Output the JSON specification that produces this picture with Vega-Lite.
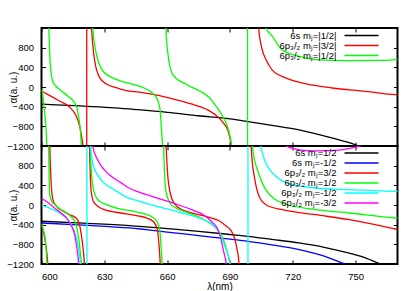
{
  "$schema": "https://vega.github.io/schema/vega-lite/v6.json",
  "padding": {"left": 5.5, "top": 26, "right": 5, "bottom": 0},
  "background": "white",
  "config": {
    "view": {"stroke": "black", "strokeWidth": 2},
    "axis": {"domain": false, "grid": false, "tickColor": "black", "tickSize": -4, "tickWidth": 1,
      "labelFont": "Liberation Sans", "labelFontSize": 9.5, "labelColor": "black",
      "titleFont": "Liberation Sans", "titleFontSize": 10, "titleFontWeight": "normal", "titleColor": "black"},
    "legend": {"labelFont": "Liberation Sans", "labelFontSize": 9.5, "labelColor": "black"}
  },
  "datasets": {
    "top": [
      {"s":"6s mⱼ=|1/2|","b":0,"x":600,"y":-347},{"s":"6s mⱼ=|1/2|","b":0,"x":610,"y":-368},{"s":"6s mⱼ=|1/2|","b":0,"x":620,"y":-390},{"s":"6s mⱼ=|1/2|","b":0,"x":635,"y":-425},{"s":"6s mⱼ=|1/2|","b":0,"x":646,"y":-462},{"s":"6s mⱼ=|1/2|","b":0,"x":660,"y":-515},{"s":"6s mⱼ=|1/2|","b":0,"x":675,"y":-585},{"s":"6s mⱼ=|1/2|","b":0,"x":690,"y":-650},{"s":"6s mⱼ=|1/2|","b":0,"x":698,"y":-700},{"s":"6s mⱼ=|1/2|","b":0,"x":710,"y":-780},{"s":"6s mⱼ=|1/2|","b":0,"x":723,"y":-871},{"s":"6s mⱼ=|1/2|","b":0,"x":739,"y":-1041},{"s":"6s mⱼ=|1/2|","b":0,"x":750,"y":-1177},{"s":"6s mⱼ=|1/2|","b":0,"x":756,"y":-1280},
      {"s":"6p₃/₂ mⱼ=|3/2|","b":0,"x":600,"y":-82},{"s":"6p₃/₂ mⱼ=|3/2|","b":0,"x":603.8,"y":-170},{"s":"6p₃/₂ mⱼ=|3/2|","b":0,"x":608.6,"y":-286},{"s":"6p₃/₂ mⱼ=|3/2|","b":0,"x":613.4,"y":-408},{"s":"6p₃/₂ mⱼ=|3/2|","b":0,"x":616.6,"y":-592},{"s":"6p₃/₂ mⱼ=|3/2|","b":0,"x":618,"y":-760},{"s":"6p₃/₂ mⱼ=|3/2|","b":0,"x":619,"y":-966},{"s":"6p₃/₂ mⱼ=|3/2|","b":0,"x":619.8,"y":-1204},{"s":"6p₃/₂ mⱼ=|3/2|","b":0,"x":620.3,"y":-1500},
      {"s":"6p₃/₂ mⱼ=|3/2|","b":1,"x":623.5,"y":1500},{"s":"6p₃/₂ mⱼ=|3/2|","b":1,"x":623.9,"y":1200},{"s":"6p₃/₂ mⱼ=|3/2|","b":1,"x":624.5,"y":850},{"s":"6p₃/₂ mⱼ=|3/2|","b":1,"x":625.4,"y":530},{"s":"6p₃/₂ mⱼ=|3/2|","b":1,"x":627.8,"y":190},{"s":"6p₃/₂ mⱼ=|3/2|","b":1,"x":631,"y":60},{"s":"6p₃/₂ mⱼ=|3/2|","b":1,"x":635.7,"y":-14},{"s":"6p₃/₂ mⱼ=|3/2|","b":1,"x":640.5,"y":-75},{"s":"6p₃/₂ mⱼ=|3/2|","b":1,"x":646.7,"y":-105},{"s":"6p₃/₂ mⱼ=|3/2|","b":1,"x":656.4,"y":-175},{"s":"6p₃/₂ mⱼ=|3/2|","b":1,"x":664,"y":-255},{"s":"6p₃/₂ mⱼ=|3/2|","b":1,"x":672,"y":-350},{"s":"6p₃/₂ mⱼ=|3/2|","b":1,"x":676,"y":-405},{"s":"6p₃/₂ mⱼ=|3/2|","b":1,"x":680,"y":-480},{"s":"6p₃/₂ mⱼ=|3/2|","b":1,"x":684.9,"y":-633},{"s":"6p₃/₂ mⱼ=|3/2|","b":1,"x":687,"y":-740},{"s":"6p₃/₂ mⱼ=|3/2|","b":1,"x":688.9,"y":-871},{"s":"6p₃/₂ mⱼ=|3/2|","b":1,"x":690.5,"y":-1177},{"s":"6p₃/₂ mⱼ=|3/2|","b":1,"x":690.9,"y":-1500},
      {"s":"6p₃/₂ mⱼ=|3/2|","b":2,"x":703.5,"y":1500},{"s":"6p₃/₂ mⱼ=|3/2|","b":2,"x":703.7,"y":1200},{"s":"6p₃/₂ mⱼ=|3/2|","b":2,"x":705.4,"y":761},{"s":"6p₃/₂ mⱼ=|3/2|","b":2,"x":707.2,"y":557},{"s":"6p₃/₂ mⱼ=|3/2|","b":2,"x":710,"y":353},{"s":"6p₃/₂ mⱼ=|3/2|","b":2,"x":716.6,"y":184},{"s":"6p₃/₂ mⱼ=|3/2|","b":2,"x":726,"y":67},{"s":"6p₃/₂ mⱼ=|3/2|","b":2,"x":738.8,"y":-20},{"s":"6p₃/₂ mⱼ=|3/2|","b":2,"x":754.7,"y":-88},{"s":"6p₃/₂ mⱼ=|3/2|","b":2,"x":769,"y":-157},{"s":"6p₃/₂ mⱼ=|3/2|","b":2,"x":771,"y":-165},
      {"s":"6p₃/₂ mⱼ=|1/2|","b":0,"x":600,"y":-48},{"s":"6p₃/₂ mⱼ=|1/2|","b":0,"x":600.7,"y":-200},{"s":"6p₃/₂ mⱼ=|1/2|","b":0,"x":601.3,"y":-450},{"s":"6p₃/₂ mⱼ=|1/2|","b":0,"x":602,"y":-750},{"s":"6p₃/₂ mⱼ=|1/2|","b":0,"x":602.6,"y":-1204},{"s":"6p₃/₂ mⱼ=|1/2|","b":0,"x":603,"y":-1600},
      {"s":"6p₃/₂ mⱼ=|1/2|","b":1,"x":603.3,"y":1500},{"s":"6p₃/₂ mⱼ=|1/2|","b":1,"x":603.5,"y":1210},{"s":"6p₃/₂ mⱼ=|1/2|","b":1,"x":604.1,"y":530},{"s":"6p₃/₂ mⱼ=|1/2|","b":1,"x":605.3,"y":122},{"s":"6p₃/₂ mⱼ=|1/2|","b":1,"x":606.8,"y":20},{"s":"6p₃/₂ mⱼ=|1/2|","b":1,"x":608.6,"y":-48},{"s":"6p₃/₂ mⱼ=|1/2|","b":1,"x":612.5,"y":-184},{"s":"6p₃/₂ mⱼ=|1/2|","b":1,"x":615.8,"y":-320},{"s":"6p₃/₂ mⱼ=|1/2|","b":1,"x":617.1,"y":-450},{"s":"6p₃/₂ mⱼ=|1/2|","b":1,"x":617.8,"y":-626},{"s":"6p₃/₂ mⱼ=|1/2|","b":1,"x":618.6,"y":-900},{"s":"6p₃/₂ mⱼ=|1/2|","b":1,"x":619,"y":-1204},{"s":"6p₃/₂ mⱼ=|1/2|","b":1,"x":619.3,"y":-1500},
      {"s":"6p₃/₂ mⱼ=|1/2|","b":2,"x":624.3,"y":1500},{"s":"6p₃/₂ mⱼ=|1/2|","b":2,"x":624.5,"y":1200},{"s":"6p₃/₂ mⱼ=|1/2|","b":2,"x":626.2,"y":667},{"s":"6p₃/₂ mⱼ=|1/2|","b":2,"x":629.3,"y":326},{"s":"6p₃/₂ mⱼ=|1/2|","b":2,"x":635.7,"y":156},{"s":"6p₃/₂ mⱼ=|1/2|","b":2,"x":640.5,"y":88},{"s":"6p₃/₂ mⱼ=|1/2|","b":2,"x":646.7,"y":20},{"s":"6p₃/₂ mⱼ=|1/2|","b":2,"x":649,"y":-20},{"s":"6p₃/₂ mⱼ=|1/2|","b":2,"x":653.1,"y":-130},{"s":"6p₃/₂ mⱼ=|1/2|","b":2,"x":655.5,"y":-270},{"s":"6p₃/₂ mⱼ=|1/2|","b":2,"x":656.6,"y":-450},{"s":"6p₃/₂ mⱼ=|1/2|","b":2,"x":657.2,"y":-800},{"s":"6p₃/₂ mⱼ=|1/2|","b":2,"x":657.8,"y":-1204},{"s":"6p₃/₂ mⱼ=|1/2|","b":2,"x":658.1,"y":-1500},
      {"s":"6p₃/₂ mⱼ=|1/2|","b":3,"x":659.3,"y":1500},{"s":"6p₃/₂ mⱼ=|1/2|","b":3,"x":659.4,"y":1200},{"s":"6p₃/₂ mⱼ=|1/2|","b":3,"x":660.2,"y":735},{"s":"6p₃/₂ mⱼ=|1/2|","b":3,"x":662.6,"y":259},{"s":"6p₃/₂ mⱼ=|1/2|","b":3,"x":669,"y":55},{"s":"6p₃/₂ mⱼ=|1/2|","b":3,"x":675,"y":-70},{"s":"6p₃/₂ mⱼ=|1/2|","b":3,"x":680,"y":-210},{"s":"6p₃/₂ mⱼ=|1/2|","b":3,"x":683.3,"y":-390},{"s":"6p₃/₂ mⱼ=|1/2|","b":3,"x":686.3,"y":-580},{"s":"6p₃/₂ mⱼ=|1/2|","b":3,"x":688.4,"y":-760},{"s":"6p₃/₂ mⱼ=|1/2|","b":3,"x":690,"y":-1000},{"s":"6p₃/₂ mⱼ=|1/2|","b":3,"x":690.8,"y":-1200},{"s":"6p₃/₂ mⱼ=|1/2|","b":3,"x":691.2,"y":-1500},
      {"s":"6p₃/₂ mⱼ=|1/2|","b":4,"x":707,"y":1500},{"s":"6p₃/₂ mⱼ=|1/2|","b":4,"x":707.2,"y":1200},{"s":"6p₃/₂ mⱼ=|1/2|","b":4,"x":710.2,"y":1034},{"s":"6p₃/₂ mⱼ=|1/2|","b":4,"x":714.7,"y":761},{"s":"6p₃/₂ mⱼ=|1/2|","b":4,"x":722.7,"y":626},{"s":"6p₃/₂ mⱼ=|1/2|","b":4,"x":730.6,"y":557},{"s":"6p₃/₂ mⱼ=|1/2|","b":4,"x":746.7,"y":537},{"s":"6p₃/₂ mⱼ=|1/2|","b":4,"x":761,"y":540},{"s":"6p₃/₂ mⱼ=|1/2|","b":4,"x":771,"y":560}
    ],
    "topv": [
      {"s":"6p₃/₂ mⱼ=|3/2|","b":9,"x":621.6,"y":-1500},{"s":"6p₃/₂ mⱼ=|3/2|","b":9,"x":621.6,"y":1500},
      {"s":"6p₃/₂ mⱼ=|1/2|","b":9,"x":698.4,"y":-1500},{"s":"6p₃/₂ mⱼ=|1/2|","b":9,"x":698.4,"y":1500}
    ],
    "bot": [
      {"s":"6s mⱼ=1/2","b":0,"x":600,"y":-331},{"s":"6s mⱼ=1/2","b":0,"x":620,"y":-370},{"s":"6s mⱼ=1/2","b":0,"x":642,"y":-420},{"s":"6s mⱼ=1/2","b":0,"x":660,"y":-480},{"s":"6s mⱼ=1/2","b":0,"x":675,"y":-535},{"s":"6s mⱼ=1/2","b":0,"x":690,"y":-600},{"s":"6s mⱼ=1/2","b":0,"x":698.5,"y":-637},{"s":"6s mⱼ=1/2","b":0,"x":710,"y":-700},{"s":"6s mⱼ=1/2","b":0,"x":723,"y":-772},{"s":"6s mⱼ=1/2","b":0,"x":735,"y":-860},{"s":"6s mⱼ=1/2","b":0,"x":746.5,"y":-976},{"s":"6s mⱼ=1/2","b":0,"x":755,"y":-1080},{"s":"6s mⱼ=1/2","b":0,"x":760.5,"y":-1179},{"s":"6s mⱼ=1/2","b":0,"x":766,"y":-1270},
      {"s":"6s mⱼ=-1/2","b":0,"x":600,"y":-366},{"s":"6s mⱼ=-1/2","b":0,"x":620,"y":-410},{"s":"6s mⱼ=-1/2","b":0,"x":642,"y":-467},{"s":"6s mⱼ=-1/2","b":0,"x":660,"y":-550},{"s":"6s mⱼ=-1/2","b":0,"x":675,"y":-623},{"s":"6s mⱼ=-1/2","b":0,"x":690,"y":-695},{"s":"6s mⱼ=-1/2","b":0,"x":698.5,"y":-738},{"s":"6s mⱼ=-1/2","b":0,"x":710,"y":-810},{"s":"6s mⱼ=-1/2","b":0,"x":723,"y":-908},{"s":"6s mⱼ=-1/2","b":0,"x":735,"y":-1040},{"s":"6s mⱼ=-1/2","b":0,"x":743.5,"y":-1179},{"s":"6s mⱼ=-1/2","b":0,"x":748,"y":-1260},
      {"s":"6p₃/₂ mⱼ=3/2","b":0,"x":600,"y":-420},{"s":"6p₃/₂ mⱼ=3/2","b":0,"x":601,"y":-560},{"s":"6p₃/₂ mⱼ=3/2","b":0,"x":602,"y":-800},{"s":"6p₃/₂ mⱼ=3/2","b":0,"x":603,"y":-1200},{"s":"6p₃/₂ mⱼ=3/2","b":0,"x":603.3,"y":-1500},
      {"s":"6p₃/₂ mⱼ=3/2","b":1,"x":603.9,"y":1500},{"s":"6p₃/₂ mⱼ=3/2","b":1,"x":604,"y":1200},{"s":"6p₃/₂ mⱼ=3/2","b":1,"x":604.5,"y":550},{"s":"6p₃/₂ mⱼ=3/2","b":1,"x":605.4,"y":116},{"s":"6p₃/₂ mⱼ=3/2","b":1,"x":607,"y":-20},{"s":"6p₃/₂ mⱼ=3/2","b":1,"x":610.1,"y":-122},{"s":"6p₃/₂ mⱼ=3/2","b":1,"x":613,"y":-190},{"s":"6p₃/₂ mⱼ=3/2","b":1,"x":616.6,"y":-270},{"s":"6p₃/₂ mⱼ=3/2","b":1,"x":618,"y":-380},{"s":"6p₃/₂ mⱼ=3/2","b":1,"x":619,"y":-596},{"s":"6p₃/₂ mⱼ=3/2","b":1,"x":619.9,"y":-900},{"s":"6p₃/₂ mⱼ=3/2","b":1,"x":620.5,"y":-1205},{"s":"6p₃/₂ mⱼ=3/2","b":1,"x":620.8,"y":-1500},
      {"s":"6p₃/₂ mⱼ=3/2","b":2,"x":622.7,"y":1500},{"s":"6p₃/₂ mⱼ=3/2","b":2,"x":622.9,"y":1200},{"s":"6p₃/₂ mⱼ=3/2","b":2,"x":623.3,"y":600},{"s":"6p₃/₂ mⱼ=3/2","b":2,"x":623.7,"y":280},{"s":"6p₃/₂ mⱼ=3/2","b":2,"x":625.2,"y":41},{"s":"6p₃/₂ mⱼ=3/2","b":2,"x":630,"y":-96},{"s":"6p₃/₂ mⱼ=3/2","b":2,"x":638,"y":-163},{"s":"6p₃/₂ mⱼ=3/2","b":2,"x":646,"y":-220},{"s":"6p₃/₂ mⱼ=3/2","b":2,"x":650,"y":-260},{"s":"6p₃/₂ mⱼ=3/2","b":2,"x":653.5,"y":-340},{"s":"6p₃/₂ mⱼ=3/2","b":2,"x":655.3,"y":-500},{"s":"6p₃/₂ mⱼ=3/2","b":2,"x":656.1,"y":-800},{"s":"6p₃/₂ mⱼ=3/2","b":2,"x":656.7,"y":-1200},{"s":"6p₃/₂ mⱼ=3/2","b":2,"x":657,"y":-1500},
      {"s":"6p₃/₂ mⱼ=3/2","b":3,"x":659.2,"y":1500},{"s":"6p₃/₂ mⱼ=3/2","b":3,"x":659.5,"y":1200},{"s":"6p₃/₂ mⱼ=3/2","b":3,"x":660.5,"y":500},{"s":"6p₃/₂ mⱼ=3/2","b":3,"x":662.5,"y":100},{"s":"6p₃/₂ mⱼ=3/2","b":3,"x":665,"y":-40},{"s":"6p₃/₂ mⱼ=3/2","b":3,"x":670,"y":-140},{"s":"6p₃/₂ mⱼ=3/2","b":3,"x":674.5,"y":-190},{"s":"6p₃/₂ mⱼ=3/2","b":3,"x":680,"y":-250},{"s":"6p₃/₂ mⱼ=3/2","b":3,"x":684.8,"y":-320},{"s":"6p₃/₂ mⱼ=3/2","b":3,"x":688,"y":-420},{"s":"6p₃/₂ mⱼ=3/2","b":3,"x":690.5,"y":-520},{"s":"6p₃/₂ mⱼ=3/2","b":3,"x":692.2,"y":-680},{"s":"6p₃/₂ mⱼ=3/2","b":3,"x":693.3,"y":-880},{"s":"6p₃/₂ mⱼ=3/2","b":3,"x":694.3,"y":-1180},{"s":"6p₃/₂ mⱼ=3/2","b":3,"x":694.7,"y":-1500},
      {"s":"6p₃/₂ mⱼ=3/2","b":4,"x":699.8,"y":1500},{"s":"6p₃/₂ mⱼ=3/2","b":4,"x":700.1,"y":1200},{"s":"6p₃/₂ mⱼ=3/2","b":4,"x":700.7,"y":850},{"s":"6p₃/₂ mⱼ=3/2","b":4,"x":701.6,"y":583},{"s":"6p₃/₂ mⱼ=3/2","b":4,"x":703.9,"y":177},{"s":"6p₃/₂ mⱼ=3/2","b":4,"x":707.2,"y":6},{"s":"6p₃/₂ mⱼ=3/2","b":4,"x":715.1,"y":-96},{"s":"6p₃/₂ mⱼ=3/2","b":4,"x":731,"y":-197},{"s":"6p₃/₂ mⱼ=3/2","b":4,"x":746.9,"y":-299},{"s":"6p₃/₂ mⱼ=3/2","b":4,"x":769.1,"y":-488},{"s":"6p₃/₂ mⱼ=3/2","b":4,"x":771,"y":-505},
      {"s":"6p₃/₂ mⱼ=1/2","b":0,"x":600,"y":-380},{"s":"6p₃/₂ mⱼ=1/2","b":0,"x":601,"y":-520},{"s":"6p₃/₂ mⱼ=1/2","b":0,"x":602,"y":-780},{"s":"6p₃/₂ mⱼ=1/2","b":0,"x":602.6,"y":-1200},{"s":"6p₃/₂ mⱼ=1/2","b":0,"x":602.9,"y":-1500},
      {"s":"6p₃/₂ mⱼ=1/2","b":1,"x":603.2,"y":1500},{"s":"6p₃/₂ mⱼ=1/2","b":1,"x":603.4,"y":1200},{"s":"6p₃/₂ mⱼ=1/2","b":1,"x":603.6,"y":700},{"s":"6p₃/₂ mⱼ=1/2","b":1,"x":603.9,"y":217},{"s":"6p₃/₂ mⱼ=1/2","b":1,"x":605,"y":60},{"s":"6p₃/₂ mⱼ=1/2","b":1,"x":606.2,"y":14},{"s":"6p₃/₂ mⱼ=1/2","b":1,"x":608.5,"y":-70},{"s":"6p₃/₂ mⱼ=1/2","b":1,"x":611.8,"y":-156},{"s":"6p₃/₂ mⱼ=1/2","b":1,"x":614,"y":-230},{"s":"6p₃/₂ mⱼ=1/2","b":1,"x":615.8,"y":-325},{"s":"6p₃/₂ mⱼ=1/2","b":1,"x":617,"y":-480},{"s":"6p₃/₂ mⱼ=1/2","b":1,"x":617.9,"y":-732},{"s":"6p₃/₂ mⱼ=1/2","b":1,"x":618.5,"y":-950},{"s":"6p₃/₂ mⱼ=1/2","b":1,"x":619,"y":-1205},{"s":"6p₃/₂ mⱼ=1/2","b":1,"x":619.3,"y":-1500},
      {"s":"6p₃/₂ mⱼ=1/2","b":2,"x":623.1,"y":1500},{"s":"6p₃/₂ mⱼ=1/2","b":2,"x":623.3,"y":1200},{"s":"6p₃/₂ mⱼ=1/2","b":2,"x":624.5,"y":380},{"s":"6p₃/₂ mⱼ=1/2","b":2,"x":626.9,"y":108},{"s":"6p₃/₂ mⱼ=1/2","b":2,"x":633.3,"y":-26},{"s":"6p₃/₂ mⱼ=1/2","b":2,"x":646,"y":-148},{"s":"6p₃/₂ mⱼ=1/2","b":2,"x":650,"y":-190},{"s":"6p₃/₂ mⱼ=1/2","b":2,"x":653,"y":-250},{"s":"6p₃/₂ mⱼ=1/2","b":2,"x":655,"y":-330},{"s":"6p₃/₂ mⱼ=1/2","b":2,"x":656.5,"y":-520},{"s":"6p₃/₂ mⱼ=1/2","b":2,"x":657.1,"y":-850},{"s":"6p₃/₂ mⱼ=1/2","b":2,"x":657.6,"y":-1200},{"s":"6p₃/₂ mⱼ=1/2","b":2,"x":657.8,"y":-1500},
      {"s":"6p₃/₂ mⱼ=1/2","b":3,"x":658,"y":1500},{"s":"6p₃/₂ mⱼ=1/2","b":3,"x":658.3,"y":1200},{"s":"6p₃/₂ mⱼ=1/2","b":3,"x":658.8,"y":600},{"s":"6p₃/₂ mⱼ=1/2","b":3,"x":659.6,"y":244},{"s":"6p₃/₂ mⱼ=1/2","b":3,"x":662,"y":6},{"s":"6p₃/₂ mⱼ=1/2","b":3,"x":666,"y":-96},{"s":"6p₃/₂ mⱼ=1/2","b":3,"x":670,"y":-160},{"s":"6p₃/₂ mⱼ=1/2","b":3,"x":675,"y":-240},{"s":"6p₃/₂ mⱼ=1/2","b":3,"x":679,"y":-330},{"s":"6p₃/₂ mⱼ=1/2","b":3,"x":683.3,"y":-470},{"s":"6p₃/₂ mⱼ=1/2","b":3,"x":686,"y":-620},{"s":"6p₃/₂ mⱼ=1/2","b":3,"x":687.5,"y":-780},{"s":"6p₃/₂ mⱼ=1/2","b":3,"x":689,"y":-1000},{"s":"6p₃/₂ mⱼ=1/2","b":3,"x":690,"y":-1200},{"s":"6p₃/₂ mⱼ=1/2","b":3,"x":690.4,"y":-1500},
      {"s":"6p₃/₂ mⱼ=1/2","b":4,"x":700.6,"y":1500},{"s":"6p₃/₂ mⱼ=1/2","b":4,"x":700.8,"y":1200},{"s":"6p₃/₂ mⱼ=1/2","b":4,"x":701.8,"y":900},{"s":"6p₃/₂ mⱼ=1/2","b":4,"x":703.1,"y":718},{"s":"6p₃/₂ mⱼ=1/2","b":4,"x":707.1,"y":311},{"s":"6p₃/₂ mⱼ=1/2","b":4,"x":715,"y":41},{"s":"6p₃/₂ mⱼ=1/2","b":4,"x":731,"y":-96},{"s":"6p₃/₂ mⱼ=1/2","b":4,"x":746.8,"y":-163},{"s":"6p₃/₂ mⱼ=1/2","b":4,"x":769,"y":-264},{"s":"6p₃/₂ mⱼ=1/2","b":4,"x":771,"y":-270},
      {"s":"6p₃/₂ mⱼ=-1/2","b":0,"x":600,"y":0},{"s":"6p₃/₂ mⱼ=-1/2","b":0,"x":603,"y":-50},{"s":"6p₃/₂ mⱼ=-1/2","b":0,"x":607,"y":-122},{"s":"6p₃/₂ mⱼ=-1/2","b":0,"x":609.5,"y":-190},{"s":"6p₃/₂ mⱼ=-1/2","b":0,"x":612.5,"y":-291},{"s":"6p₃/₂ mⱼ=-1/2","b":0,"x":614.5,"y":-420},{"s":"6p₃/₂ mⱼ=-1/2","b":0,"x":616.2,"y":-596},{"s":"6p₃/₂ mⱼ=-1/2","b":0,"x":617.5,"y":-850},{"s":"6p₃/₂ mⱼ=-1/2","b":0,"x":618.5,"y":-1205},{"s":"6p₃/₂ mⱼ=-1/2","b":0,"x":618.8,"y":-1500},
      {"s":"6p₃/₂ mⱼ=-1/2","b":1,"x":623.2,"y":1500},{"s":"6p₃/₂ mⱼ=-1/2","b":1,"x":623.5,"y":1200},{"s":"6p₃/₂ mⱼ=-1/2","b":1,"x":624.4,"y":854},{"s":"6p₃/₂ mⱼ=-1/2","b":1,"x":628.4,"y":514},{"s":"6p₃/₂ mⱼ=-1/2","b":1,"x":634.8,"y":311},{"s":"6p₃/₂ mⱼ=-1/2","b":1,"x":640,"y":170},{"s":"6p₃/₂ mⱼ=-1/2","b":1,"x":646,"y":85},{"s":"6p₃/₂ mⱼ=-1/2","b":1,"x":652,"y":10},{"s":"6p₃/₂ mⱼ=-1/2","b":1,"x":657,"y":-50},{"s":"6p₃/₂ mⱼ=-1/2","b":1,"x":665,"y":-140},{"s":"6p₃/₂ mⱼ=-1/2","b":1,"x":673,"y":-230},{"s":"6p₃/₂ mⱼ=-1/2","b":1,"x":678,"y":-310},{"s":"6p₃/₂ mⱼ=-1/2","b":1,"x":681.7,"y":-400},{"s":"6p₃/₂ mⱼ=-1/2","b":1,"x":684.9,"y":-560},{"s":"6p₃/₂ mⱼ=-1/2","b":1,"x":686.8,"y":-760},{"s":"6p₃/₂ mⱼ=-1/2","b":1,"x":688.5,"y":-950},{"s":"6p₃/₂ mⱼ=-1/2","b":1,"x":690,"y":-1200},{"s":"6p₃/₂ mⱼ=-1/2","b":1,"x":690.4,"y":-1500},
      {"s":"6p₃/₂ mⱼ=-1/2","b":2,"x":704,"y":1500},{"s":"6p₃/₂ mⱼ=-1/2","b":2,"x":704.5,"y":1250},{"s":"6p₃/₂ mⱼ=-1/2","b":2,"x":705.5,"y":1057},{"s":"6p₃/₂ mⱼ=-1/2","b":2,"x":710.3,"y":650},{"s":"6p₃/₂ mⱼ=-1/2","b":2,"x":719.8,"y":413},{"s":"6p₃/₂ mⱼ=-1/2","b":2,"x":731,"y":346},{"s":"6p₃/₂ mⱼ=-1/2","b":2,"x":746.8,"y":311},{"s":"6p₃/₂ mⱼ=-1/2","b":2,"x":769,"y":278},{"s":"6p₃/₂ mⱼ=-1/2","b":2,"x":771,"y":275},
      {"s":"6p₃/₂ mⱼ=-3/2","b":0,"x":600,"y":136},{"s":"6p₃/₂ mⱼ=-3/2","b":0,"x":604,"y":20},{"s":"6p₃/₂ mⱼ=-3/2","b":0,"x":607,"y":-88},{"s":"6p₃/₂ mⱼ=-3/2","b":0,"x":609.5,"y":-170},{"s":"6p₃/₂ mⱼ=-3/2","b":0,"x":611.8,"y":-258},{"s":"6p₃/₂ mⱼ=-3/2","b":0,"x":613.8,"y":-390},{"s":"6p₃/₂ mⱼ=-3/2","b":0,"x":615.8,"y":-596},{"s":"6p₃/₂ mⱼ=-3/2","b":0,"x":616.8,"y":-850},{"s":"6p₃/₂ mⱼ=-3/2","b":0,"x":617.7,"y":-1205},{"s":"6p₃/₂ mⱼ=-3/2","b":0,"x":618,"y":-1500},
      {"s":"6p₃/₂ mⱼ=-3/2","b":1,"x":624,"y":1500},{"s":"6p₃/₂ mⱼ=-3/2","b":1,"x":624.4,"y":1200},{"s":"6p₃/₂ mⱼ=-3/2","b":1,"x":626.8,"y":921},{"s":"6p₃/₂ mⱼ=-3/2","b":1,"x":629.5,"y":740},{"s":"6p₃/₂ mⱼ=-3/2","b":1,"x":632,"y":630},{"s":"6p₃/₂ mⱼ=-3/2","b":1,"x":638,"y":450},{"s":"6p₃/₂ mⱼ=-3/2","b":1,"x":642,"y":340},{"s":"6p₃/₂ mⱼ=-3/2","b":1,"x":646,"y":270},{"s":"6p₃/₂ mⱼ=-3/2","b":1,"x":652,"y":185},{"s":"6p₃/₂ mⱼ=-3/2","b":1,"x":658,"y":105},{"s":"6p₃/₂ mⱼ=-3/2","b":1,"x":665,"y":10},{"s":"6p₃/₂ mⱼ=-3/2","b":1,"x":672,"y":-100},{"s":"6p₃/₂ mⱼ=-3/2","b":1,"x":677,"y":-190},{"s":"6p₃/₂ mⱼ=-3/2","b":1,"x":681.7,"y":-360},{"s":"6p₃/₂ mⱼ=-3/2","b":1,"x":684,"y":-480},{"s":"6p₃/₂ mⱼ=-3/2","b":1,"x":685.7,"y":-700},{"s":"6p₃/₂ mⱼ=-3/2","b":1,"x":687,"y":-950},{"s":"6p₃/₂ mⱼ=-3/2","b":1,"x":688.2,"y":-1200},{"s":"6p₃/₂ mⱼ=-3/2","b":1,"x":688.5,"y":-1500},
      {"s":"6p₃/₂ mⱼ=-3/2","b":2,"x":712,"y":1500},{"s":"6p₃/₂ mⱼ=-3/2","b":2,"x":717,"y":1200},{"s":"6p₃/₂ mⱼ=-3/2","b":2,"x":721,"y":1140},{"s":"6p₃/₂ mⱼ=-3/2","b":2,"x":727,"y":1105},{"s":"6p₃/₂ mⱼ=-3/2","b":2,"x":733,"y":1100},{"s":"6p₃/₂ mⱼ=-3/2","b":2,"x":740,"y":1110},{"s":"6p₃/₂ mⱼ=-3/2","b":2,"x":746,"y":1140},{"s":"6p₃/₂ mⱼ=-3/2","b":2,"x":751,"y":1185},{"s":"6p₃/₂ mⱼ=-3/2","b":2,"x":754,"y":1230},{"s":"6p₃/₂ mⱼ=-3/2","b":2,"x":758,"y":1320}
    ],
    "botv": [
      {"s":"6p₃/₂ mⱼ=-1/2","b":9,"x":621.7,"y":-1500},{"s":"6p₃/₂ mⱼ=-1/2","b":9,"x":621.7,"y":1500},
      {"s":"6p₃/₂ mⱼ=-1/2","b":10,"x":698.6,"y":-1500},{"s":"6p₃/₂ mⱼ=-1/2","b":10,"x":698.6,"y":1500}
    ]
  },
  "spacing": 0,
  "bounds": "flush",
  "resolve": {"scale": {"color": "independent"}, "legend": {"color": "independent"}},
  "vconcat": [
    {
      "width": 356, "height": 118,
      "resolve": {"axis": {"x": "independent", "y": "independent"}},
      "layer": [
        {
          "data": {"name": "top"},
          "mark": {"type": "line", "clip": true, "interpolate": "monotone", "strokeWidth": 1.3},
          "encoding": {
            "x": {"field": "x", "type": "quantitative", "scale": {"domain": [600, 770], "nice": false, "zero": false},
              "axis": {"orient": "bottom", "labels": false, "title": null, "values": [600, 630, 660, 690, 720, 750]}},
            "y": {"field": "y", "type": "quantitative", "scale": {"domain": [-1200, 1200], "nice": false},
              "axis": {"orient": "left", "title": "α(a. u.)", "format": "d", "values": [-1200, -800, -400, 0, 400, 800], "labelPadding": 12, "titleX": -23.5}},
            "color": {"field": "s", "type": "nominal",
              "scale": {"domain": ["6s mⱼ=|1/2|", "6p₃/₂ mⱼ=|3/2|", "6p₃/₂ mⱼ=|1/2|"], "range": ["#000000", "#ff0000", "#00ff00"]},
              "legend": {"title": null, "orient": "none", "legendX": 315, "legendY": 2.5, "padding": 0,
                "symbolType": "M-25,0M-4.25,0H4.25", "symbolSize": 64, "symbolStrokeWidth": 1.3,
                "labelAlign": "right", "labelOffset": -30, "rowPadding": -1.5}},
            "detail": {"field": "b", "type": "nominal"}
          }
        },
        {
          "data": {"name": "topv"},
          "mark": {"type": "line", "clip": true, "strokeWidth": 1.3},
          "encoding": {
            "x": {"field": "x", "type": "quantitative", "scale": {"domain": [600, 770], "nice": false, "zero": false},
              "axis": {"orient": "top", "labels": false, "title": null, "values": [600, 630, 660, 690, 720, 750]}},
            "y": {"field": "y", "type": "quantitative", "scale": {"domain": [-1200, 1200], "nice": false},
              "axis": {"orient": "right", "labels": false, "title": null, "values": [-1200, -800, -400, 0, 400, 800]}},
            "color": {"field": "s", "type": "nominal"},
            "detail": {"field": "b", "type": "nominal"}
          }
        }
      ]
    },
    {
      "width": 356, "height": 118,
      "resolve": {"axis": {"x": "independent", "y": "independent"}},
      "layer": [
        {
          "data": {"name": "bot"},
          "mark": {"type": "line", "clip": true, "interpolate": "monotone", "strokeWidth": 1.3},
          "encoding": {
            "x": {"field": "x", "type": "quantitative", "scale": {"domain": [600, 770], "nice": false, "zero": false},
              "axis": {"orient": "bottom", "title": "λ(nm)", "values": [600, 630, 660, 690, 720, 750], "labelPadding": 11, "titlePadding": 0.5}},
            "y": {"field": "y", "type": "quantitative", "scale": {"domain": [-1200, 1200], "nice": false},
              "axis": {"orient": "left", "title": "α(a. u.)", "format": "d", "values": [-1200, -800, -400, 0, 400, 800], "labelPadding": 12, "titleX": -23.5}},
            "color": {"field": "s", "type": "nominal",
              "scale": {"domain": ["6s mⱼ=1/2", "6s mⱼ=-1/2", "6p₃/₂ mⱼ=3/2", "6p₃/₂ mⱼ=1/2", "6p₃/₂ mⱼ=-1/2", "6p₃/₂ mⱼ=-3/2"], "range": ["#000000", "#0000ff", "#ff0000", "#00ff00", "#00ffff", "#ff00ff"]},
              "legend": {"title": null, "orient": "none", "legendX": 315, "legendY": 2, "padding": 0,
                "symbolType": "M-25,0M-4.25,0H4.25", "symbolSize": 64, "symbolStrokeWidth": 1.3,
                "labelAlign": "right", "labelOffset": -30, "rowPadding": -1}},
            "detail": {"field": "b", "type": "nominal"}
          }
        },
        {
          "data": {"name": "botv"},
          "mark": {"type": "line", "clip": true, "strokeWidth": 1.3},
          "encoding": {
            "x": {"field": "x", "type": "quantitative", "scale": {"domain": [600, 770], "nice": false, "zero": false},
              "axis": {"orient": "top", "labels": false, "title": null, "values": [600, 630, 660, 690, 720, 750]}},
            "y": {"field": "y", "type": "quantitative", "scale": {"domain": [-1200, 1200], "nice": false},
              "axis": {"orient": "right", "labels": false, "title": null, "values": [-1200, -800, -400, 0, 400, 800]}},
            "color": {"field": "s", "type": "nominal"},
            "detail": {"field": "b", "type": "nominal"}
          }
        }
      ]
    }
  ]
}
